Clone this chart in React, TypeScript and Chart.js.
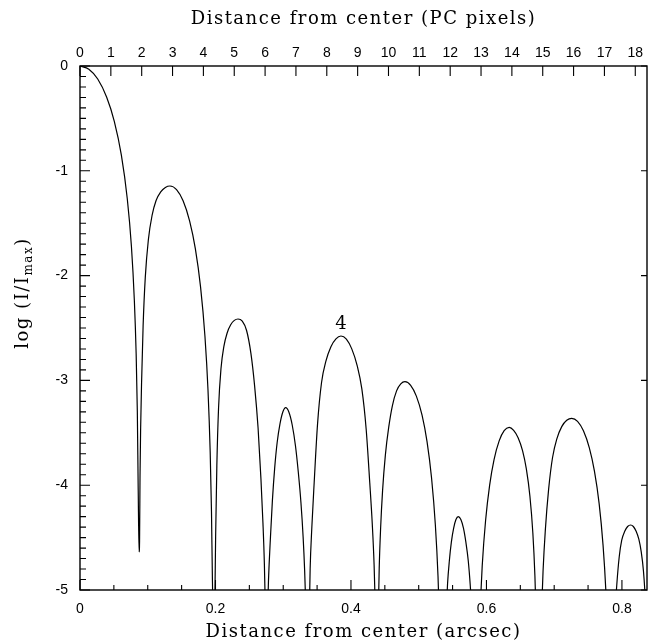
import React, { useEffect, useRef } from "react";
import { Chart, registerables } from "chart.js";

Chart.register(...registerables);

// Radial profile: distance from center (arcsec)
const arcsec = [
  0, 0.01309, 0.02617, 0.03926, 0.05063, 0.06106, 0.06979, 0.07590, 0.08025, 0.08288,
  0.08462, 0.08592, 0.08723,
  0.08791, 0.08860, 0.08952, 0.09088, 0.09316, 0.09635, 0.10091, 0.10639, 0.11232, 0.11916,
  0.12601, 0.13284,
  0.14251, 0.15219, 0.16187, 0.17026, 0.17799, 0.18444, 0.18896, 0.19218, 0.19410, 0.19541,
  0.19734,
  0.19911, 0.20021, 0.20201, 0.20452, 0.20810, 0.21240, 0.21708, 0.22245, 0.22784, 0.23321,
  0.23956, 0.24590, 0.25225, 0.25779, 0.26288, 0.26710, 0.27007, 0.27218, 0.27346, 0.27557,
  0.27697, 0.27782, 0.27921, 0.28118, 0.28398, 0.28735, 0.29100, 0.29520, 0.29941, 0.30362,
  0.30844, 0.31327, 0.31810, 0.32227, 0.32614, 0.32936, 0.33162, 0.33323, 0.33579,
  0.33827, 0.33975, 0.34223, 0.34568, 0.35063, 0.35656, 0.36300, 0.37041, 0.37783, 0.38524,
  0.39321, 0.40118, 0.40915, 0.41606, 0.42244, 0.42775, 0.43147, 0.43413, 0.43572, 0.43838,
  0.44044, 0.44168, 0.44375, 0.44664, 0.45077, 0.45574, 0.46111, 0.46731, 0.47351, 0.47970,
  0.48812, 0.49653, 0.50494, 0.51224, 0.51897, 0.52458, 0.52850, 0.53131, 0.53579,
  0.54031, 0.54258, 0.54524, 0.54819, 0.55159, 0.55498, 0.55838,
  0.56221, 0.56605, 0.56974, 0.57314, 0.57609, 0.57875, 0.58376,
  0.59026, 0.59374, 0.59873, 0.60472, 0.61122, 0.61875, 0.62613, 0.63365,
  0.64015, 0.64672, 0.65328, 0.65889, 0.66413, 0.66849, 0.67153, 0.67365, 0.67720,
  0.68108, 0.68354, 0.68694, 0.69176, 0.69757, 0.70391, 0.71114, 0.71852, 0.72576,
  0.73447, 0.74317, 0.75188, 0.75941, 0.76635, 0.77212, 0.77625, 0.77919, 0.78376,
  0.78755, 0.78952, 0.79247, 0.79601, 0.79970, 0.80413, 0.80841, 0.81284,
  0.81683, 0.82096, 0.82494, 0.82849, 0.83173, 0.83439, 0.83631,
];
// log(I/Imax) at each distance above
const logIntensity = [
  0, -0.0305, -0.1240, -0.2958, -0.5277, -0.8511, -1.2662, -1.7204, -2.2395, -2.7443,
  -3.2939, -4.0410, -4.6374,
  -4.5420, -3.9122, -3.4542, -3.0248, -2.4809, -2.0191, -1.6575, -1.4256, -1.2834, -1.2004,
  -1.1584, -1.1450,
  -1.1794, -1.2863, -1.4800, -1.7433, -2.1097, -2.5792, -3.0935, -3.6822, -4.2529, -4.8760,
  -5.4771,
  -5.0859, -4.4943, -3.8149, -3.2662, -2.8893, -2.6756, -2.5496, -2.4695, -2.4275, -2.4141,
  -2.4351, -2.5238, -2.7405, -3.0544, -3.4542, -3.9380, -4.3607, -4.7519, -5.1336, -5.6679,
  -5.3234, -5.0048, -4.7529, -4.4933, -4.1498, -3.8397, -3.5954, -3.4151, -3.3015, -3.2605,
  -3.3044, -3.4256, -3.6260, -3.8769, -4.1651, -4.4933, -4.8130, -5.1431, -5.6679,
  -5.2958, -4.7958, -4.4036, -3.9771, -3.4198, -3.0200, -2.8168, -2.6784, -2.6031, -2.5763,
  -2.6059, -2.6994, -2.8588, -3.0811, -3.4656, -3.9771, -4.3731, -4.7567, -5.1259, -5.6679,
  -5.1975, -4.7958, -4.4132, -4.0544, -3.7128, -3.4466, -3.2424, -3.1002, -3.0334, -3.0124,
  -3.0468, -3.1498, -3.3311, -3.5821, -3.9313, -4.3798, -4.8702, -5.4294, -6.0496,
  -5.2529, -4.9409, -4.7214, -4.5439, -4.4103, -4.3282, -4.3006,
  -4.3282, -4.4103, -4.5487, -4.7204, -4.9561, -5.2529, -6.0496,
  -5.2443, -4.7700, -4.3368, -3.9990, -3.7557, -3.5773, -3.4790, -3.4475,
  -3.4771, -3.5468, -3.6699, -3.8445, -4.1031, -4.4561, -4.8636, -5.3301, -6.0496,
  -5.2644, -4.8235, -4.4265, -4.0401, -3.7357, -3.5573, -3.4409, -3.3808, -3.3617,
  -3.3903, -3.4809, -3.6441, -3.8664, -4.1756, -4.5715, -5.0057, -5.5019, -6.2405,
  -5.5973, -5.2538, -4.9447, -4.6832, -4.5239, -4.4399, -4.3941, -4.3798,
  -4.3941, -4.4399, -4.5153, -4.6365, -4.8167, -5.0744, -5.3692,
];

const bottomLabelValues = [0, 0.2, 0.4, 0.6, 0.8];
const xMaxArcsec = 0.837;
const xMaxPixels = 18.38;
const yMin = -5;
const yMax = 0;

const topTitle = "Distance from center (PC pixels)";
const bottomTitle = "Distance from center (arcsec)";
const yTitleMain = "log (I/I";
const yTitleSub = "max";
const yTitleEnd = ")";
const peakLabelText = "4";
const peakLabelX = 0.38524;
const peakLabelY = -2.5763;

const SANS = '"Liberation Sans", Arial, sans-serif';
const SERIF = '"DejaVu Serif", "Liberation Serif", serif';

const isMultiple = (v: number, m: number) => {
  const r = v / m;
  return Math.abs(r - Math.round(r)) < 1e-6;
};

const decorPlugin = {
  id: "decor",
  afterDraw(chart: any) {
    const { ctx, chartArea: a, scales } = chart;
    const xs = scales.x;
    const xt = scales.x2;
    const ys = scales.y;
    ctx.save();
    ctx.strokeStyle = "#000";
    ctx.lineWidth = 1.1;
    ctx.beginPath();
    ys.ticks.forEach((t: any) => {
      const p = ys.getPixelForValue(t.value);
      const major = isMultiple(t.value, 1);
      const L = major ? 10 : 6;
      ctx.moveTo(a.left, p);
      ctx.lineTo(a.left + L, p);
      if (major) {
        ctx.moveTo(a.right, p);
        ctx.lineTo(a.right - 6, p);
      }
    });
    xs.ticks.forEach((t: any) => {
      const p = xs.getPixelForValue(t.value);
      const major = isMultiple(t.value, 0.2);
      const L = major ? 10 : 5;
      ctx.moveTo(p, a.bottom);
      ctx.lineTo(p, a.bottom - L);
    });
    xt.ticks.forEach((t: any) => {
      const p = xt.getPixelForValue(t.value);
      ctx.moveTo(p, a.top);
      ctx.lineTo(p, a.top + 10);
    });
    ctx.stroke();
    ctx.lineWidth = 1.4;
    ctx.strokeRect(a.left, a.top, a.right - a.left, a.bottom - a.top);

    // axis titles
    ctx.fillStyle = "#000";
    ctx.font = `18px ${SERIF}`;
    (ctx as any).letterSpacing = "1.5px";
    ctx.textAlign = "center";
    ctx.textBaseline = "alphabetic";
    const cx = (a.left + a.right) / 2;
    ctx.fillText(topTitle, cx, 24);
    ctx.fillText(bottomTitle, cx, 637);

    // y title with subscript
    ctx.save();
    ctx.translate(28, 293);
    ctx.rotate(-Math.PI / 2);
    ctx.textAlign = "left";
    ctx.font = `18px ${SERIF}`;
    const w1 = ctx.measureText(yTitleMain).width;
    const w3 = ctx.measureText(yTitleEnd).width;
    ctx.font = `12px ${SERIF}`;
    const w2 = ctx.measureText(yTitleSub).width;
    const W = w1 + w2 + w3;
    let x0 = -W / 2;
    ctx.font = `18px ${SERIF}`;
    ctx.fillText(yTitleMain, x0, 0);
    x0 += w1;
    ctx.font = `12px ${SERIF}`;
    ctx.fillText(yTitleSub, x0, 4);
    x0 += w2;
    ctx.font = `18px ${SERIF}`;
    ctx.fillText(yTitleEnd, x0, 0);
    ctx.restore();

    // peak annotation
    (ctx as any).letterSpacing = "0px";
    ctx.font = `18px ${SERIF}`;
    ctx.textAlign = "center";
    ctx.textBaseline = "alphabetic";
    const px = xs.getPixelForValue(peakLabelX);
    const py = ys.getPixelForValue(peakLabelY);
    ctx.fillText(peakLabelText, px, py - 6.5);
    ctx.restore();
  },
};

export default function App() {
  const ref = useRef<HTMLCanvasElement | null>(null);
  useEffect(() => {
    if (!ref.current) return;
    const points = arcsec.map((x, i) => ({ x, y: logIntensity[i] }));
    const tickFont = { family: SANS, size: 14 };
    const chart = new Chart(ref.current, {
      type: "line",
      data: {
        datasets: [
          {
            data: points,
            borderColor: "#000",
            borderWidth: 1.2,
            pointRadius: 0,
            fill: false,
            cubicInterpolationMode: "monotone",
            xAxisID: "x",
            yAxisID: "y",
          },
        ],
      },
      options: {
        responsive: false,
        animation: false,
        events: [],
        layout: { padding: { left: 0, right: 2, top: 0, bottom: 0 } },
        plugins: { legend: { display: false }, tooltip: { enabled: false }, title: { display: false } },
        scales: {
          x: {
            type: "linear",
            position: "bottom",
            min: 0,
            max: xMaxArcsec,
            grid: { display: false, drawTicks: false },
            border: { display: false },
            ticks: {
              stepSize: 0.05,
              maxTicksLimit: 1000,
              autoSkip: false,
              includeBounds: false,
              maxRotation: 0,
              minRotation: 0,
              padding: 11,
              color: "#000",
              font: tickFont,
              callback: (v: any) =>
                bottomLabelValues.some((b) => Math.abs(b - v) < 1e-6)
                  ? String(Math.round(Number(v) * 10) / 10)
                  : "",
            },
            afterFit: (s: any) => {
              s.height = 51;
            },
          },
          x2: {
            type: "linear",
            axis: "x",
            position: "top",
            min: 0,
            max: xMaxPixels,
            grid: { display: false, drawTicks: false },
            border: { display: false },
            ticks: {
              stepSize: 1,
              maxTicksLimit: 1000,
              autoSkip: false,
              includeBounds: false,
              maxRotation: 0,
              minRotation: 0,
              padding: 4,
              color: "#000",
              font: tickFont,
              callback: (v: any) => String(Math.round(Number(v))),
            },
            afterFit: (s: any) => {
              s.height = 66;
            },
          },
          y: {
            type: "linear",
            position: "left",
            min: yMin,
            max: yMax,
            grid: { display: false, drawTicks: false },
            border: { display: false },
            ticks: {
              stepSize: 0.1,
              maxTicksLimit: 1000,
              autoSkip: false,
              includeBounds: false,
              padding: 12,
              color: "#000",
              font: tickFont,
              callback: (v: any) => (isMultiple(Number(v), 1) ? String(Math.round(Number(v)) || 0) : ""),
            },
            afterFit: (s: any) => {
              s.width = 80;
            },
          },
        },
      } as any,
      plugins: [decorPlugin],
    });
    return () => chart.destroy();
  }, []);
  return (
    <div style={{ position: "absolute", left: 0, top: 0, width: 649, height: 641, background: "#fff" }}>
      <canvas ref={ref} width={649} height={641} style={{ display: "block" }} />
    </div>
  );
}
